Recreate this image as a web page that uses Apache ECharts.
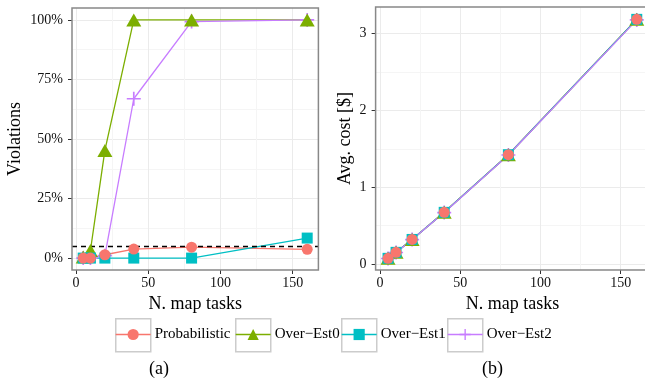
<!DOCTYPE html>
<html>
<head>
<meta charset="utf-8">
<script src="https://cdn.jsdelivr.net/npm/echarts@6/dist/echarts.min.js"></script>
<style>
html,body{margin:0;padding:0;background:#fff;}
#chart{width:645px;height:385px;}
</style>
</head>
<body>
<div id="chart"></div>
<script>
// ---- data ----
const xTasks = [5, 10, 20, 40, 80, 160];
const seriesNames = ['Probabilistic', 'Over\u2212Est0', 'Over\u2212Est1', 'Over\u2212Est2'];
const violProb = [0, 0, 0.014, 0.038, 0.046, 0.037];
const violEst0 = [0.005, 0.032, 0.452, 1, 1, 1];
const violEst1 = [0, 0, 0, 0, 0, 0.084];
const violEst2 = [0, 0, 0.01, 0.669, 0.993, 1];
const costProb = [0.074, 0.152, 0.32, 0.673, 1.424, 3.187];
const costEst0 = [0.074, 0.152, 0.32, 0.673, 1.424, 3.187];
const costEst1 = [0.074, 0.152, 0.32, 0.673, 1.424, 3.187];
const costEst2 = [0.072, 0.15, 0.318, 0.67, 1.42, 3.18];
const threshold = 0.05;
const xTicks = [0, 50, 100, 150];
const xMinor = [25, 75, 125];
const violTicks = [0, 0.25, 0.5, 0.75, 1];
const violMinor = [0.125, 0.375, 0.625, 0.875];
const costTicks = [0, 1, 2, 3];
const costMinor = [0.5, 1.5, 2.5];

// ---- style ----
const FONT = 'Liberation Serif';
const colors = ['#F8766D', '#7CAE00', '#00BFC4', '#C77CFF'];
const PLUS = 'path://M4.4,0H5.6V4.4H10V5.6H5.6V10H4.4V5.6H0V4.4H4.4Z';
const symbols = ['circle', 'triangle', 'rect', PLUS];
const symSizes = [11, [15, 13], 11, 14];
const pointZ = [14, 12, 13, 11];
const xRange = [-2.75, 167.75];
const violRange = [-0.05, 1.05];
const costRange = [-0.078, 3.348];
const panels = [
  { left: 72, top: 8, width: 246.4, height: 262 },
  { left: 375.6, top: 7, width: 273.6, height: 263 }
];

const pair = (ys) => xTasks.map((x, i) => [x, ys[i]]);
const violData = [violProb, violEst0, violEst1, violEst2];
const costData = [costProb, costEst0, costEst1, costEst2];

function mainAxis(gridIndex, range, ticks, extra) {
  return Object.assign({
    type: 'value', gridIndex: gridIndex, min: range[0], max: range[1],
    axisLine: { show: false, onZero: false },
    axisTick: { show: true, length: 4, lineStyle: { color: '#333', width: 1 }, customValues: ticks },
    axisLabel: { customValues: ticks, color: '#111', fontFamily: FONT, fontSize: 14, margin: 6 },
    splitLine: { show: true, lineStyle: { color: '#EBEBEB', width: 1 } },
    nameLocation: 'middle',
    nameTextStyle: { fontFamily: FONT, fontSize: 18, color: '#000' }
  }, extra || {});
}
function minorAxis(gridIndex, range, ticks, pos) {
  return {
    type: 'value', gridIndex: gridIndex, min: range[0], max: range[1], position: pos,
    axisLine: { show: false, onZero: false },
    axisTick: { show: false, customValues: ticks },
    axisLabel: { show: false, customValues: ticks },
    splitLine: { show: true, lineStyle: { color: '#F5F5F5', width: 1 } }
  };
}

const series = [];
for (let k = 0; k < 4; k++) {
  const common = {
    type: 'line', name: seriesNames[k], symbol: symbols[k], symbolSize: symSizes[k],
    showAllSymbol: true, clip: false, z: pointZ[k],
    lineStyle: { color: colors[k], width: 1.3, opacity: 0 },
    itemStyle: { color: colors[k] },
    emphasis: { disabled: true }
  };
  series.push(Object.assign({}, common, { xAxisIndex: 0, yAxisIndex: 0, data: pair(violData[k]) }));
  series.push(Object.assign({}, common, { xAxisIndex: 2, yAxisIndex: 2, data: pair(costData[k]) }));
}
for (let k = 0; k < 4; k++) {
  const common = {
    type: 'line', name: seriesNames[k] + ' line', symbol: 'none', clip: false, z: 3,
    lineStyle: { color: colors[k], width: 1.3 },
    emphasis: { disabled: true }, silent: true
  };
  series.push(Object.assign({}, common, { xAxisIndex: 0, yAxisIndex: 0, data: pair(violData[k]) }));
  series.push(Object.assign({}, common, { xAxisIndex: 2, yAxisIndex: 2, data: pair(costData[k]) }));
}
series.push({
  type: 'line', name: 'threshold', xAxisIndex: 0, yAxisIndex: 0, data: [], z: 4,
  markLine: {
    silent: true, symbol: 'none', label: { show: false },
    lineStyle: { color: '#000', type: [5, 4], width: 1.4 },
    data: [{ yAxis: threshold }]
  }
});

const legendLefts = [115, 235, 341, 447];
const legends = seriesNames.map((n, i) => ({
  data: [n], left: legendLefts[i], top: 327, padding: 0,
  itemWidth: 35, itemHeight: 14, itemGap: 0,
  lineStyle: { opacity: 1, width: 1.3 },
  textStyle: { fontFamily: FONT, fontSize: 15, color: '#000', padding: [0, 0, 0, -1] },
  selectedMode: false
}));

const graphics = legendLefts.map((l) => ({
  type: 'rect', left: l, top: 318, z: 0,
  shape: { width: 35, height: 33 },
  style: { fill: '#fff', stroke: '#CCCCCC', lineWidth: 1.5 }
}));
panels.forEach((p) => graphics.push({
  type: 'rect', z: 10, silent: true,
  shape: { x: p.left, y: p.top, width: p.width, height: p.height },
  style: { fill: 'none', stroke: '#888', lineWidth: 1.5 }
}));
graphics.push({ type: 'text', left: 149, top: 360, style: { text: '(a)', font: '18px "Liberation Serif"', fill: '#000' } });
graphics.push({ type: 'text', left: 482, top: 360, style: { text: '(b)', font: '18px "Liberation Serif"', fill: '#000' } });

const chart = echarts.init(document.getElementById('chart'), null, { renderer: 'canvas' });
chart.setOption({
  animation: false,
  backgroundColor: '#fff',
  grid: panels.map((p) => Object.assign({ show: false, outerBoundsMode: 'none', containLabel: false }, p)),
  xAxis: [
    mainAxis(0, xRange, xTicks, { position: 'bottom', name: 'N. map tasks', nameGap: 22 }),
    minorAxis(0, xRange, xMinor, 'top'),
    mainAxis(1, xRange, xTicks, { position: 'bottom', name: 'N. map tasks', nameGap: 22 }),
    minorAxis(1, xRange, xMinor, 'top')
  ],
  yAxis: [
    mainAxis(0, violRange, violTicks, {
      position: 'left', name: 'Violations', nameGap: 48,
      axisLabel: { customValues: violTicks, color: '#111', fontFamily: FONT, fontSize: 14, margin: 9,
        formatter: (v) => Math.round(v * 100) + '%' }
    }),
    minorAxis(0, violRange, violMinor, 'right'),
    mainAxis(1, costRange, costTicks, {
      position: 'left', name: 'Avg. cost [$]', nameGap: 21,
      axisLabel: { customValues: costTicks, color: '#111', fontFamily: FONT, fontSize: 14, margin: 9 }
    }),
    minorAxis(1, costRange, costMinor, 'right')
  ],
  legend: legends,
  graphic: graphics,
  series: series
});
</script>
</body>
</html>
